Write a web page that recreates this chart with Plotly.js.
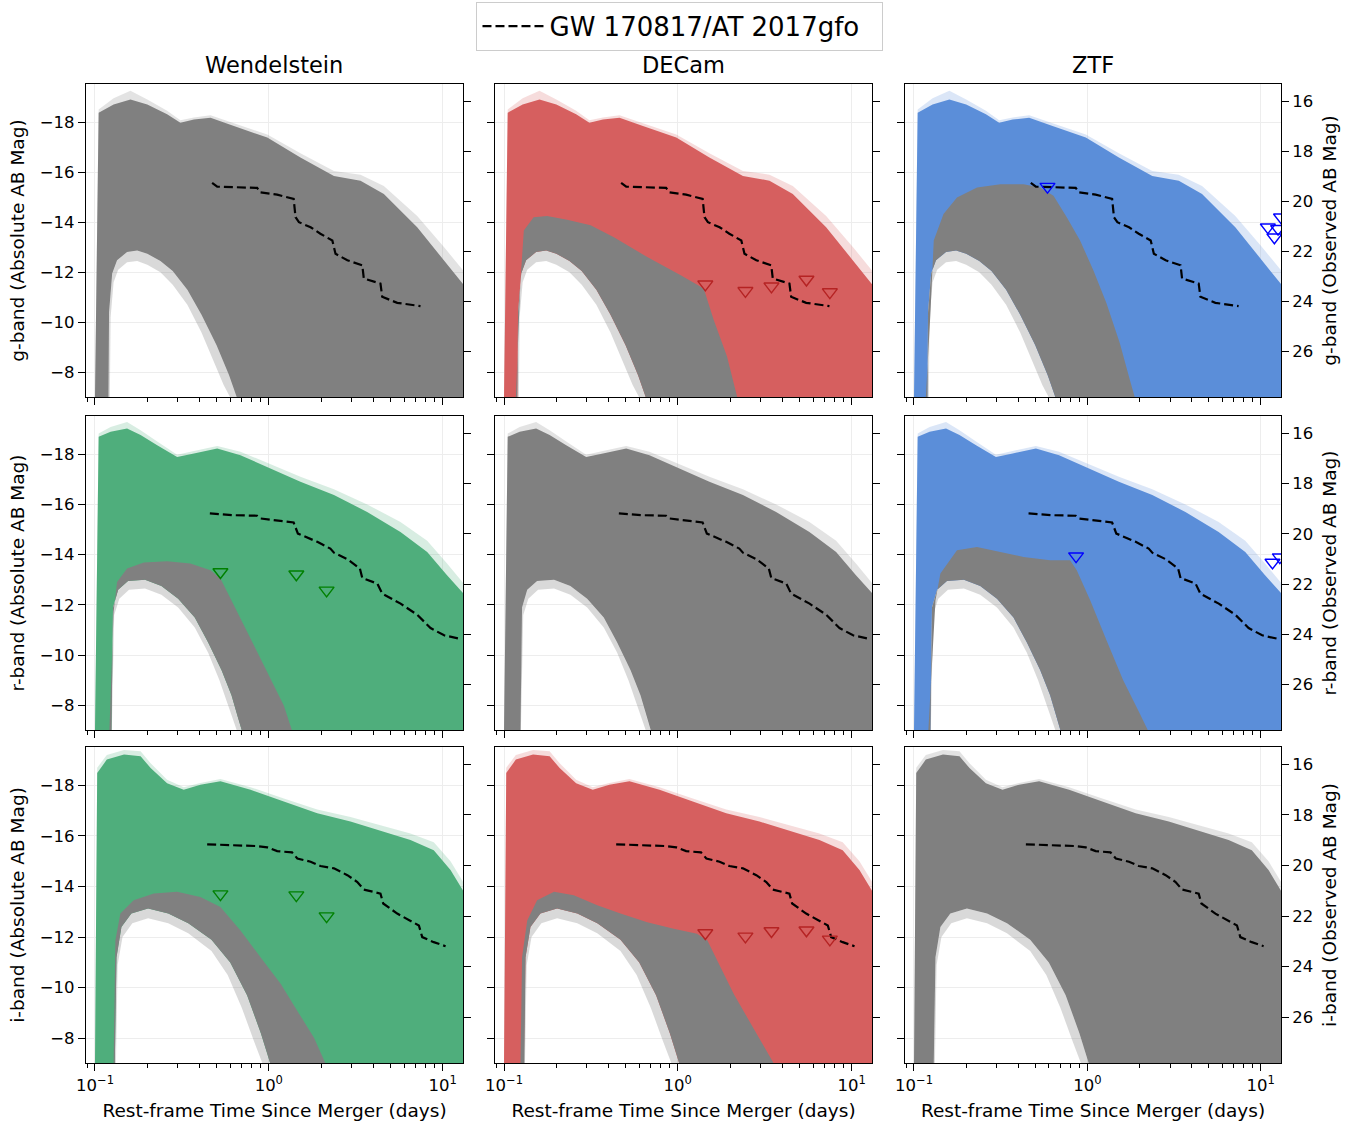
<!DOCTYPE html>
<html><head><meta charset="utf-8">
<script src="https://cdn.plot.ly/plotly-3.0.1.min.js"></script>
<style>html,body{margin:0;padding:0;background:#fff}</style>
</head><body><div id="chart" style="width:1369px;height:1129px"></div>
<script>
// ---------- data ----------
// model envelopes (brightest edge) per band; t in days, absolute AB mag
const gUpperT = [0.1, 0.105, 0.128, 0.160, 0.200, 0.260, 0.310, 0.371, 0.462, 0.63, 0.98, 1.52, 2.37, 3.37, 4.59, 7.14, 10.2, 13.2];
const gUpperM = [-7, -18.37, -18.70, -18.90, -18.70, -18.31, -17.97, -18.10, -18.17, -17.84, -17.38, -16.58, -15.85, -15.66, -15.13, -13.80, -12.48, -11.5];
const gOuterM = [-7, -18.5, -18.95, -19.25, -18.9, -18.45, -18.07, -18.18, -18.27, -17.95, -17.5, -16.75, -16.05, -15.9, -15.45, -14.25, -13.0, -12.05];

const rUpperT = [0.1, 0.105, 0.123, 0.153, 0.183, 0.228, 0.297, 0.371, 0.505, 0.687, 0.98, 1.52, 2.37, 3.68, 5.72, 8.15, 10.6, 13.2];
const rUpperM = [-7, -18.69, -18.89, -19.02, -18.76, -18.36, -17.89, -18.03, -18.23, -17.96, -17.49, -16.90, -16.37, -15.70, -14.90, -14.11, -13.18, -12.45];
const rOuterM = [-7, -18.82, -19.08, -19.28, -18.95, -18.5, -17.98, -18.13, -18.33, -18.1, -17.65, -17.1, -16.6, -16.0, -15.3, -14.55, -13.65, -12.85];

const iUpperT = [0.1, 0.103, 0.117, 0.147, 0.183, 0.209, 0.260, 0.324, 0.404, 0.527, 0.785, 1.22, 1.90, 2.95, 4.59, 6.53, 8.89, 11.1, 13.2];
const iUpperM = [-7, -18.49, -19.02, -19.22, -19.15, -18.69, -18.09, -17.83, -18.03, -18.16, -17.83, -17.36, -16.90, -16.57, -16.17, -15.84, -15.44, -14.65, -13.8];
const iOuterM = [-7, -18.7, -19.2, -19.4, -19.35, -18.88, -18.22, -17.93, -18.1, -18.25, -17.93, -17.48, -17.05, -16.75, -16.38, -16.1, -15.75, -15.0, -14.15];

// empty region under the faint early models: dense edge ("dome") and fully empty core
const gDomeT = [0.119, 0.1205, 0.1256, 0.134, 0.153, 0.175, 0.200, 0.238, 0.28, 0.34, 0.41, 0.50, 0.59, 0.655];
const gDomeM = [-7, -10.4, -11.95, -12.48, -12.81, -12.87, -12.74, -12.45, -12.05, -11.3, -10.3, -9.1, -7.9, -7];
const gCoreT = [0.121, 0.123, 0.128, 0.136, 0.153, 0.175, 0.200, 0.238, 0.28, 0.34, 0.41, 0.48, 0.55, 0.60];
const gCoreM = [-7, -10.2, -11.6, -12.1, -12.4, -12.45, -12.3, -12.0, -11.5, -10.7, -9.6, -8.5, -7.5, -7];
const rDomeT = [0.1233, 0.127, 0.136, 0.155, 0.194, 0.241, 0.301, 0.375, 0.448, 0.535, 0.610, 0.665, 0.70];
const rDomeM = [-7, -11.9, -12.6, -12.95, -13.0, -12.75, -12.25, -11.5, -10.5, -9.4, -8.4, -7.5, -7];
const rCoreT = [0.125, 0.129, 0.138, 0.157, 0.194, 0.241, 0.301, 0.375, 0.448, 0.52, 0.58, 0.625, 0.655];
const rCoreM = [-7, -11.6, -12.25, -12.6, -12.65, -12.4, -11.9, -11.1, -10.1, -9.0, -8.1, -7.4, -7];
const iDomeT = [0.130, 0.133, 0.142, 0.162, 0.202, 0.264, 0.344, 0.468, 0.60, 0.75, 0.90, 1.02];
const iDomeM = [-7, -11.2, -12.4, -12.93, -13.13, -12.93, -12.55, -11.9, -11.0, -9.7, -8.2, -7];
const iCoreT = [0.132, 0.135, 0.144, 0.164, 0.202, 0.264, 0.344, 0.468, 0.58, 0.70, 0.82, 0.92];
const iCoreM = [-7, -10.9, -12.0, -12.55, -12.75, -12.55, -12.15, -11.45, -10.5, -9.2, -7.9, -7];

// models still allowed (grey) in each constrained panel
const decamGGrayT = [0.117, 0.1244, 0.130, 0.148, 0.177, 0.231, 0.315, 0.429, 0.667, 1.04, 1.41, 1.61, 1.92, 2.20];
const decamGGrayM = [-7, -11.68, -13.67, -14.2, -14.25, -14.10, -13.88, -13.40, -12.61, -11.88, -11.35, -10.09, -8.64, -7];
const ztfGGrayT = [0.117, 0.1244, 0.130, 0.148, 0.177, 0.231, 0.315, 0.429, 0.534, 0.638, 0.761, 0.908, 1.083, 1.29, 1.54, 1.76, 1.88];
const ztfGGrayM = [-7, -10.36, -13.27, -14.33, -14.99, -15.39, -15.52, -15.52, -15.39, -15.06, -14.20, -13.27, -12.08, -10.76, -9.17, -7.7, -7];
const wendRGrayT = [0.121, 0.128, 0.134, 0.153, 0.191, 0.260, 0.354, 0.462, 0.527, 0.603, 0.718, 0.857, 1.023, 1.22, 1.36];
const wendRGrayM = [-7, -11.72, -12.91, -13.45, -13.69, -13.74, -13.65, -13.38, -13.05, -12.25, -11.19, -10.12, -9.06, -8.0, -7];
const ztfRGrayT = [0.121, 0.133, 0.142, 0.177, 0.231, 0.315, 0.429, 0.610, 0.795, 0.869, 1.04, 1.29, 1.61, 2.01, 2.24];
const ztfRGrayM = [-7, -12.18, -13.25, -14.18, -14.31, -14.11, -13.91, -13.78, -13.78, -13.38, -12.18, -10.59, -9.0, -7.67, -7];
const wendIGrayT = [0.128, 0.131, 0.140, 0.167, 0.218, 0.297, 0.404, 0.527, 0.687, 0.896, 1.17, 1.46, 1.82, 2.12];
const wendIGrayM = [-7, -11.87, -12.93, -13.46, -13.72, -13.79, -13.59, -13.19, -12.26, -11.20, -10.15, -9.08, -8.02, -7];
const decamIGrayT = [0.1244, 0.127, 0.136, 0.155, 0.194, 0.252, 0.344, 0.468, 0.667, 0.948, 1.29, 1.48, 1.76, 2.10, 2.51, 2.99, 3.57];
const decamIGrayM = [-7, -11.20, -12.66, -13.46, -13.79, -13.66, -13.26, -12.93, -12.59, -12.33, -12.13, -11.87, -10.81, -9.75, -8.82, -7.89, -7];

// GW 170817 / AT 2017gfo light curves
const gwGT = [0.472, 0.505, 0.63, 0.857, 0.896, 1.117, 1.39, 1.425, 1.49, 1.74, 1.98, 2.32, 2.42, 2.83, 3.45, 3.52, 4.39, 4.49, 5.48, 7.46];
const gwGM = [-15.57, -15.42, -15.40, -15.37, -15.19, -15.10, -14.93, -14.20, -14.00, -13.80, -13.54, -13.27, -12.74, -12.48, -12.28, -11.75, -11.55, -11.02, -10.78, -10.65];
const gwRT = [0.458, 0.63, 0.857, 0.896, 1.39, 1.47, 1.90, 2.26, 2.37, 2.83, 3.34, 3.45, 4.21, 4.49, 5.73, 7.14, 8.52, 10.2, 12.4];
const gwRM = [-15.64, -15.57, -15.55, -15.44, -15.28, -14.84, -14.51, -14.24, -14.08, -13.82, -13.45, -13.07, -12.85, -12.45, -12.05, -11.61, -11.08, -10.79, -10.66];
const gwIT = [0.442, 0.63, 0.857, 0.98, 1.117, 1.36, 1.46, 1.74, 1.98, 2.37, 2.83, 3.23, 3.52, 4.39, 4.55, 5.48, 7.30, 7.63, 8.89, 10.4];
const gwIM = [-15.67, -15.64, -15.60, -15.55, -15.40, -15.35, -15.11, -14.98, -14.81, -14.72, -14.45, -14.18, -13.88, -13.72, -13.33, -12.93, -12.46, -12.00, -11.80, -11.64];

// upper limits
const wendRLimT = [0.527, 1.44, 2.15];
const wendRLimM = [-13.31, -13.22, -12.58];
const wendILimT = [0.527, 1.44, 2.15];
const wendILimM = [-13.70, -13.66, -12.83];
const decamGLimT = [1.44, 2.45, 3.46, 5.50, 7.50];
const decamGLimM = [-11.52, -11.26, -11.44, -11.71, -11.21];
const decamILimT = [1.44, 2.45, 3.46, 5.50, 7.50];
const decamILimM = [-12.16, -12.03, -12.24, -12.27, -11.91];
const ztfGLimT = [0.589, 11.0, 12.0, 12.6, 13.1];
const ztfGLimM = [-15.42, -13.80, -13.40, -13.74, -14.2];
const ztfRLimT = [0.861, 11.7, 12.9];
const ztfRLimM = [-13.94, -13.69, -13.9];

const columnTitles = ['Wendelstein', 'DECam', 'ZTF'];
const bandNames = ['g', 'r', 'i'];
const xTickVals = [0.1, 1, 10];
const xTickText = ['10<sup>\u22121</sup>', '10<sup>0</sup>', '10<sup>1</sup>'];
const distanceModulus = 34.83;

// ---------- styling ----------
const GREY = '#808080', RED = '#d65f5f', GREEN = '#4fae7c', BLUE = '#5b8ed9';
const FRINGE = {'#808080': 'rgba(128,128,128,0.22)', '#d65f5f': 'rgba(214,95,95,0.22)', '#4fae7c': 'rgba(79,174,124,0.22)', '#5b8ed9': 'rgba(91,142,217,0.22)'};
const RING = 'rgba(128,128,128,0.3)';
const FONT = 'DejaVu Sans, Liberation Sans, sans-serif';
const BOTTOM = -5; // below the visible range: closes polygons
const YRANGE = [-7.02, -19.52];

const bands = [
  {upT: gUpperT, upM: gUpperM, outM: gOuterM, domeT: gDomeT, domeM: gDomeM, coreT: gCoreT, coreM: gCoreM, gwT: gwGT, gwM: gwGM},
  {upT: rUpperT, upM: rUpperM, outM: rOuterM, domeT: rDomeT, domeM: rDomeM, coreT: rCoreT, coreM: rCoreM, gwT: gwRT, gwM: gwRM},
  {upT: iUpperT, upM: iUpperM, outM: iOuterM, domeT: iDomeT, domeM: iDomeM, coreT: iCoreT, coreM: iCoreM, gwT: gwIT, gwM: gwIM}
];
// panels row-major: [color, greyT, greyM, limT, limM, limColor]
const panels = [
  [GREY, null, null, null, null, null],
  [RED, decamGGrayT, decamGGrayM, decamGLimT, decamGLimM, '#b52323'],
  [BLUE, ztfGGrayT, ztfGGrayM, ztfGLimT, ztfGLimM, '#0000ff'],
  [GREEN, wendRGrayT, wendRGrayM, wendRLimT, wendRLimM, '#008000'],
  [GREY, null, null, null, null, null],
  [BLUE, ztfRGrayT, ztfRGrayM, ztfRLimT, ztfRLimM, '#0000ff'],
  [GREEN, wendIGrayT, wendIGrayM, wendILimT, wendILimM, '#008000'],
  [RED, decamIGrayT, decamIGrayM, decamILimT, decamILimM, '#b52323'],
  [GREY, null, null, null, null, null]
];

function polygon(upT, upM, domeT, domeM) {
  const x = [upT[0]], y = [BOTTOM];
  for (let k = 0; k < upT.length; k++) { x.push(upT[k]); y.push(upM[k]); }
  x.push(upT[upT.length - 1]); y.push(BOTTOM);
  const n = domeT.length;
  x.push(domeT[n - 1]); y.push(BOTTOM);
  for (let k = n - 1; k >= 0; k--) { x.push(domeT[k]); y.push(domeM[k]); }
  x.push(domeT[0]); y.push(BOTTOM);
  return {x, y};
}

const XDOM = [[0, 0.3155], [0.3423, 0.6577], [0.6854, 1.0]];
const YDOM = [[0.6803, 1.0], [0.3401, 0.6609], [0, 0.3228]];

const traces = [];
const layout = {
  width: 1369, height: 1129,
  margin: {l: 86, r: 88, t: 84, b: 66, pad: 0},
  paper_bgcolor: '#fff', plot_bgcolor: '#fff',
  font: {family: FONT, size: 16.5, color: '#000'},
  showlegend: true,
  legend: {xref: 'container', yref: 'container', x: 0.4967, xanchor: 'center', y: 0.9985, yanchor: 'top', orientation: 'h',
           bordercolor: '#cccccc', borderwidth: 1, bgcolor: '#fff',
           font: {family: FONT, size: 26, color: '#000'}, itemwidth: 62,
           entrywidth: 328, entrywidthmode: 'pixels'},
  annotations: []
};

const axisTitleFont = {family: FONT, size: 18.5, color: '#000'};
const tickFont = {family: FONT, size: 16.5, color: '#000'};

for (let k = 0; k < 9; k++) {
  const r = Math.floor(k / 3), c = k % 3;
  const id = k === 0 ? '' : String(k + 1);
  const xr = 'x' + id, yr = 'y' + id, y2r = 'y' + (k + 10);
  const b = bands[r];
  const [col, gT, gM, lT, lM, lC] = panels[k];

  const fr = polygon(b.upT, b.outM, b.domeT, b.domeM);
  traces.push({x: fr.x, y: fr.y, xaxis: xr, yaxis: yr, type: 'scatter', mode: 'lines', fill: 'toself',
    fillcolor: FRINGE[col], line: {width: 0, color: FRINGE[col]}, showlegend: false, hoverinfo: 'skip'});
  const env = polygon(b.upT, b.upM, b.domeT, b.domeM);
  traces.push({x: env.x, y: env.y, xaxis: xr, yaxis: yr, type: 'scatter', mode: 'lines', fill: 'toself',
    fillcolor: col, line: {width: 0, color: col}, showlegend: false, hoverinfo: 'skip'});
  if (gT) {
    const gp = polygon(gT, gM, b.domeT, b.domeM);
    traces.push({x: gp.x, y: gp.y, xaxis: xr, yaxis: yr, type: 'scatter', mode: 'lines', fill: 'toself',
      fillcolor: GREY, line: {width: 0, color: GREY}, showlegend: false, hoverinfo: 'skip'});
  }
  const ring = polygon(b.domeT, b.domeM, b.coreT, b.coreM);
  traces.push({x: ring.x, y: ring.y, xaxis: xr, yaxis: yr, type: 'scatter', mode: 'lines', fill: 'toself',
    fillcolor: RING, line: {width: 0, color: RING}, showlegend: false, hoverinfo: 'skip'});
  traces.push({x: b.gwT, y: b.gwM, xaxis: xr, yaxis: yr, type: 'scatter', mode: 'lines',
    line: {color: '#000', width: 2.2, dash: '9px,4px'}, name: 'GW 170817/AT 2017gfo',
    showlegend: k === 0, hoverinfo: 'skip'});
  if (lT) {
    traces.push({x: lT, y: lM, xaxis: xr, yaxis: yr, type: 'scatter', mode: 'markers',
      marker: {symbol: 'triangle-down-open', size: 13, color: lC, line: {width: 1.4, color: lC}},
      showlegend: false, hoverinfo: 'skip'});
  }
  traces.push({x: [], y: [], xaxis: xr, yaxis: y2r, type: 'scatter', mode: 'markers', showlegend: false, hoverinfo: 'skip'});

  const xa = {
    domain: XDOM[c], anchor: yr, type: 'log',
    range: [Math.log10(0.0888), Math.log10(13.1)],
    tickmode: 'array', tickvals: xTickVals, ticktext: xTickText,
    showticklabels: r === 2, ticks: 'outside', ticklen: 7, tickwidth: 1.2, tickcolor: '#000',
    minor: {ticks: 'outside', ticklen: 4, tickwidth: 1, tickcolor: '#000', dtick: 'D1', showgrid: false},
    showline: true, mirror: true, linecolor: '#000', linewidth: 1.3,
    showgrid: true, gridcolor: '#ededed', gridwidth: 1, zeroline: false,
    tickfont: tickFont
  };
  if (r === 2) xa.title = {text: 'Rest-frame Time Since Merger (days)', font: axisTitleFont, standoff: 10};
  layout['xaxis' + id] = xa;

  const ya = {
    domain: YDOM[r], anchor: xr, range: YRANGE, autorange: false,
    tickmode: 'linear', tick0: 0, dtick: 2,
    showticklabels: c === 0, ticks: 'outside', ticklen: 7, tickwidth: 1.2, tickcolor: '#000',
    showline: true, mirror: true, linecolor: '#000', linewidth: 1.3,
    showgrid: true, gridcolor: '#ededed', gridwidth: 1, zeroline: false,
    tickfont: tickFont
  };
  if (c === 0) ya.title = {text: bandNames[r] + '-band (Absolute AB Mag)', font: axisTitleFont, standoff: 10};
  layout['yaxis' + id] = ya;

  const y2 = {
    overlaying: yr, anchor: xr, side: 'right',
    range: [YRANGE[0] + distanceModulus, YRANGE[1] + distanceModulus], autorange: false,
    tickmode: 'linear', tick0: 0, dtick: 2,
    showticklabels: c === 2, ticks: 'outside', ticklen: 7, tickwidth: 1.2, tickcolor: '#000',
    showline: false, showgrid: false, zeroline: false,
    tickfont: tickFont
  };
  if (c === 2) y2.title = {text: bandNames[r] + '-band (Observed AB Mag)', font: axisTitleFont, standoff: 10};
  layout['yaxis' + (k + 10)] = y2;
}
const colCenters = [0.1577, 0.5, 0.8427];
for (let c = 0; c < 3; c++) {
  layout.annotations.push({text: columnTitles[c], xref: 'paper', yref: 'paper', x: colCenters[c], y: 1.0194,
    xanchor: 'center', yanchor: 'middle', showarrow: false, font: {family: FONT, size: 22.5, color: '#000'}});
}
Plotly.newPlot('chart', traces, layout, {displayModeBar: false, responsive: false});
</script></body></html>
